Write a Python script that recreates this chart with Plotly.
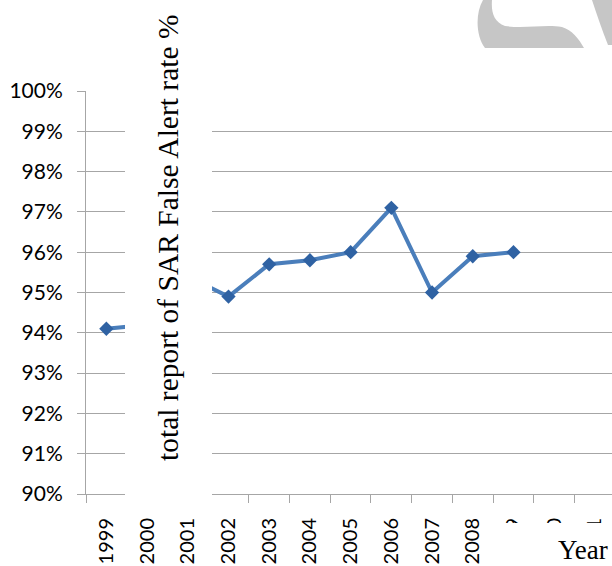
import re
import plotly.graph_objects as go

W, H = 612, 566
# plot area in pixels
L, T, B = 86, 91, 72
PW, PH = W - L, H - T - B

# Reporting years and the SAR false-alert rate (%) for each
years = ["1999", "2000", "2001", "2002", "2003", "2004", "2005",
         "2006", "2007", "2008", "2009", "2010", "2011"]
rate = [94.1, 94.2, 95.4, 94.9, 95.7, 95.8, 96.0,
        97.1, 95.0, 95.9, 96.0, None, None]

y_ticks = [90, 91, 92, 93, 94, 95, 96, 97, 98, 99, 100]
y_labels = [f"{v}%" for v in y_ticks]

Y_FONT = dict(family="Lato, Carlito, Calibri, sans-serif", size=21, color="#000000")
X_FONT = dict(family="Lato, Carlito, Calibri, sans-serif", size=20, color="#000000")
SERIF = "Liberation Serif, Times New Roman, serif"
GRID = "#a6a6a6"


def px(x, y):
    """Pixel position on the page -> paper coordinates of the plot area."""
    return (x - L) / PW, (H - B - y) / PH


def to_paper(path):
    """Convert an SVG path written in page pixels to paper coordinates."""
    def repl(m):
        x, y = px(float(m.group(1)), float(m.group(2)))
        return f"{x:.5f},{y:.5f}"
    return re.sub(r"(-?\d+\.?\d*),(-?\d+\.?\d*)", repl, path)


fig = go.Figure(
    go.Scatter(
        x=years,
        y=rate,
        mode="lines+markers",
        line=dict(color="#4A7EBB", width=4),
        marker=dict(symbol="diamond", size=11, color="#2F62A3"),
        connectgaps=False,
        hoverinfo="x+y",
    )
)

fig.update_layout(
    width=W,
    height=H,
    margin=dict(l=L, r=0, t=T, b=B, pad=0, autoexpand=False),
    paper_bgcolor="white",
    plot_bgcolor="white",
    showlegend=False,
    xaxis=dict(
        type="category",
        range=[-0.5, 12.42],
        automargin=False,
        tickson="boundaries",
        ticks="outside",
        ticklen=8,
        tickcolor=GRID,
        showline=True,
        linecolor=GRID,
        linewidth=1,
        showgrid=False,
        tickangle=-90,
        tickfont=X_FONT,
        ticklabelstandoff=15,
    ),
    yaxis=dict(
        range=[90, 100],
        automargin=False,
        tickvals=y_ticks,
        ticktext=y_labels,
        showgrid=True,
        gridcolor=GRID,
        gridwidth=1,
        ticks="outside",
        ticklen=8,
        tickcolor=GRID,
        showline=True,
        linecolor=GRID,
        linewidth=1,
        zeroline=False,
        tickfont=Y_FONT,
        ticklabelstandoff=10,
    ),
)

# White panels behind the axis title and the "Year" caption
x0, y0 = px(125, 510)
x1, y1 = px(212, 0)
fig.add_shape(type="rect", xref="paper", yref="paper", x0=x0, x1=x1, y0=y0, y1=y1,
              fillcolor="white", line=dict(width=0), layer="above")
x0, y0 = px(500, 566)
x1, y1 = px(612, 523)
fig.add_shape(type="rect", xref="paper", yref="paper", x0=x0, x1=x1, y0=y0, y1=y1,
              fillcolor="white", line=dict(width=0), layer="above")

# Grey logo fragment in the top-right corner
logo_hook = ("M 483,0 L 492,0 C 491,12 494,22 505,26 C 525,29 545,24 562,27 "
             "C 572,30 579,39 584,48 L 485,48 C 476,36 475,14 483,0 Z")
logo_wedge = "M 592,0 L 612,0 L 612,45 L 608,45 C 602,30 597,15 592,0 Z"
for p in (logo_hook, logo_wedge):
    fig.add_shape(type="path", xref="paper", yref="paper", path=to_paper(p),
                  fillcolor="#c6c6c6", line=dict(width=0), layer="above")

tx, ty = px(168, 238)
fig.add_annotation(
    text="total report of SAR False Alert rate %",
    xref="paper", yref="paper", x=tx, y=ty,
    xanchor="center", yanchor="middle",
    textangle=-90, showarrow=False,
    font=dict(family=SERIF, size=29.5, color="#000000"),
)
tx, ty = px(583, 550)
fig.add_annotation(
    text="Year",
    xref="paper", yref="paper", x=tx, y=ty,
    xanchor="center", yanchor="middle",
    showarrow=False,
    font=dict(family=SERIF, size=27, color="#000000"),
)

fig.write_html("out.html")
